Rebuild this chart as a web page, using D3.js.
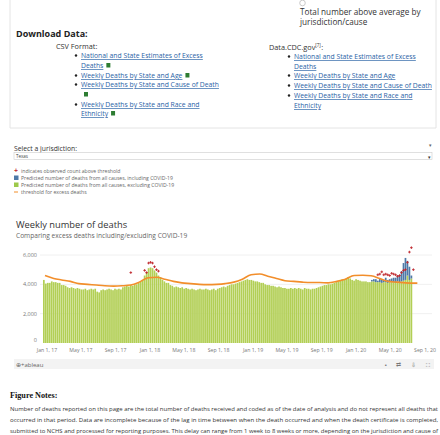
<!DOCTYPE html>
<html><head><meta charset="utf-8">
<script src="https://cdn.jsdelivr.net/npm/d3@7"></script>
<style>body{margin:0;background:#fff;}svg{display:block;font-family:"Open Sans",sans-serif;}</style>
</head><body><svg id="c" width="440" height="435"></svg>
<script>
const firstWeek = "2017-01-07";
const green = [
4300,4050,4100,4100,4200,4150,4150,4100,4100,3950,3950,3900,3800,3750,3800,3750,3700,3750,3700,3650,3650,3700,3600,3650,3700,3650,3700,3500,3450,3600,3650,3600,3650,3700,3650,3600,3700,3650,3700,3650,3800,3850,3900,3850,3950,3900,4000,4000,4100,4200,4300,4600,
4800,5100,5150,5100,4950,4800,4600,4500,4300,4200,4100,4100,3950,3900,3800,3850,3800,3750,3800,3700,3750,3700,3650,3700,3650,3600,3650,3700,3650,3650,3700,3650,3600,3650,3700,3600,3700,3750,3800,3850,3800,3900,3950,4000,4000,4050,4100,4150,4200,4250,
4300,4350,4300,4300,4250,4200,4200,4150,4100,4100,4000,3950,3950,3900,3900,3850,3800,3850,3800,3750,3750,3700,3700,3750,3700,3750,3700,3750,3700,3650,3750,3700,3700,3650,3700,3700,3750,3800,3850,3900,3950,3950,4000,4000,4050,4100,4150,4200,4300,4350,4300,4400,
4500,4400,4300,4250,4350,4300,4250,4200,4200,4200,4150,4150,4200,4200,4150,4150,4150,4100,4150,4150,4100,4200,4150,4150,4100,4200,4150,4200,4250,4300,4600,4300,4400];
const blueExtra = [0,0,0,0,0,0,0,0,0,0,0,0,100,150,200,100,250,200,150,300,200,150,250,300,350,400,450,700,1200,1500,1000,900,200];
const thrDates = ["2017-01-01","2017-02-01","2017-03-01","2017-04-01","2017-05-01","2017-06-01","2017-07-01","2017-08-01","2017-09-01","2017-10-01","2017-11-01","2017-12-01","2018-01-01","2018-02-01","2018-03-01","2018-04-01","2018-05-01","2018-06-01","2018-07-01","2018-08-01","2018-09-01","2018-10-01","2018-11-01","2018-12-01","2019-01-01","2019-02-01","2019-03-01","2019-04-01","2019-05-01","2019-06-01","2019-07-01","2019-08-01","2019-09-01","2019-10-01","2019-11-01","2019-12-01","2020-01-01","2020-02-01","2020-03-01","2020-04-01","2020-05-01","2020-06-01","2020-07-01","2020-08-12"];
const thrValues = [4600,4400,4300,4200,4050,4000,3950,3900,3880,3900,3950,4150,4450,4480,4350,4200,4100,4050,4000,3980,4000,4050,4150,4350,4650,4700,4550,4400,4250,4200,4150,4120,4120,4100,4200,4350,4600,4620,4580,4400,4200,4150,4100,4080];
const plusDates = ["2017-11-11","2017-12-30","2018-01-06","2018-01-13","2018-01-20","2018-01-27","2018-02-03","2018-02-10","2018-02-17","2020-04-04","2020-04-11","2020-04-18","2020-04-25","2020-05-02","2020-05-09","2020-05-16","2020-05-23","2020-05-30","2020-06-06","2020-06-13","2020-06-20","2020-06-27","2020-07-04","2020-07-11","2020-07-18","2020-07-25","2020-08-01","2020-08-08"];
const plusValues = [4800,4950,4800,5450,5500,5450,5200,5000,4900,4650,4700,4850,4650,4700,4650,4600,4750,4700,4650,4550,4600,4800,4950,5000,5500,6200,6500,5000];
const yTicks = [0,2000,4000,6000];
const legendItems = ["indicates observed count above threshold","Predicted number of deaths from all causes, including COVID-19","Predicted number of deaths from all causes, excluding COVID-19","threshold for excess deaths"];

const svg = d3.select("#c");
const P = d3.timeParse("%Y-%m-%d");
const link="#2a63a6";
svg.append("line").attr("x1",10).attr("x2",10).attr("y1",0).attr("y2",128).attr("stroke","#e4e4e4");
svg.append("line").attr("x1",436).attr("x2",436).attr("y1",0).attr("y2",128).attr("stroke","#e4e4e4");
svg.append("line").attr("x1",10).attr("x2",436).attr("y1",128).attr("y2",128).attr("stroke","#e4e4e4");
const T=(x,y,s,o={})=>{const t=svg.append("text").attr("x",x).attr("y",y).text(s).attr("font-size",o.fs||7.3).attr("fill",o.c||"#333");if(o.b)t.attr("font-weight","bold");if(o.u)t.attr("text-decoration","underline");if(o.f)t.attr("font-family",o.f);if(o.a)t.attr("text-anchor",o.a);return t;};
svg.append("circle").attr("cx",302.5).attr("cy",3).attr("r",2.8).attr("fill","#fff").attr("stroke","#aaa").attr("stroke-width",0.6);
T(300,15,"Total number above average by",{fs:8.2});
T(300,25,"jurisdiction/cause",{fs:8.2});
T(16,37,"Download Data:",{fs:9,b:1,c:"#222"});
T(56,49,"CSV Format:",{fs:7.3});
const lf=6.8;
const csv=[["National and State Estimates of Excess",58,1],["Deaths",68,0,1],["Weekly Deaths by State and Age",78,1,1],["Weekly Deaths by State and Cause of Death",87,1],["",97,0,1],["Weekly Deaths by State and Race and",107,1],["Ethnicity",116,0,1]];
csv.forEach(([s,y,b,ic])=>{if(b)svg.append("circle").attr("cx",76).attr("cy",y-2.5).attr("r",1.2).attr("fill","#222");
 const t=T(81,y,s,{fs:lf,c:link,u:1});
 if(ic){const w=s?t.node().getComputedTextLength():0;svg.append("rect").attr("x",81+w+3).attr("y",y-5).attr("width",4).attr("height",4.5).attr("fill","#2e7d32");}});
const dc=T(269,50,"Data.CDC.gov",{fs:7.3});
const dw=dc.node().getComputedTextLength();
T(269+dw,46.5,"[7]",{fs:4.5});
T(269+dw+6,50,":",{fs:7.3});
[["National and State Estimates of Excess",59,1],["Deaths",69,0],["Weekly Deaths by State and Age",78,1],["Weekly Deaths by State and Cause of Death",88,1],["Weekly Deaths by State and Race and",98,1],["Ethnicity",108,0]].forEach(([s,y,b])=>{
 if(b)svg.append("circle").attr("cx",289).attr("cy",y-2.5).attr("r",1.2).attr("fill","#222");T(294,y,s,{fs:lf,c:link,u:1});});
T(14,151,"Select a jurisdiction:",{fs:6.8,c:"#333"});
T(430,147,"▾",{fs:5,c:"#666",a:"middle"});
svg.append("rect").attr("x",14).attr("y",152.5).attr("width",418).attr("height",7).attr("fill","#fff").attr("stroke","#ccc").attr("stroke-width",0.6);
T(16,158,"Texas",{fs:4.5,c:"#444"});
T(428,158.5,"▾",{fs:5,c:"#333"});
const lc=["#c0272d","#4e79a7","#9dc94a","#f28e2b"];
legendItems.forEach((s,i)=>{const y=171+i*7;
 if(i==0)T(14,y+2,"+",{fs:7,c:lc[0],b:1});
 else if(i==3)svg.append("line").attr("x1",14).attr("x2",18).attr("y1",y).attr("y2",y).attr("stroke",lc[3]).attr("stroke-width",1);
 else svg.append("rect").attr("x",14).attr("y",y-2.5).attr("width",4.5).attr("height",4.5).attr("fill",lc[i]);
 T(21,y+2,s,{fs:5.1,c:"#666"});});
T(16,228,"Weekly number of deaths",{fs:9.3,c:"#333"});
T(16,237.5,"Comparing excess deaths including/excluding COVID-19",{fs:6.6,c:"#666"});
const weeks=green.map((d,i)=>d3.timeDay.offset(P(firstWeek),7*i));
const x=d3.scaleTime().domain([P("2017-01-01"),P("2020-09-01")]).range([45,423]);
const y=d3.scaleLinear().domain([0,6000]).range([343,255]);
const g=svg.append("g");
yTicks.forEach(t=>{if(t>0)g.append("line").attr("x1",40).attr("x2",432).attr("y1",y(t)).attr("y2",y(t)).attr("stroke","#f0f0f0");
 g.append("text").attr("x",37).attr("y",y(t)+(t?2:-1)).attr("text-anchor","end").attr("font-size",5.5).attr("fill","#777").text(d3.format(",")(t));});
const bw=1.7;
const bx=d=>x(d3.timeDay.offset(d,-3))-bw/2-2;
g.selectAll(".b").data(weeks).join("rect").attr("x",bx).attr("width",bw).attr("y",(d,i)=>y(green[i])).attr("height",(d,i)=>y(0)-y(green[i])).attr("fill","#b2cf55");
const off=green.length-blueExtra.length;
g.selectAll(".bl").data(blueExtra).join("rect").attr("x",(d,i)=>bx(weeks[off+i])).attr("width",bw).attr("y",(d,i)=>y(green[off+i]+d)).attr("height",(d,i)=>y(green[off+i])-y(green[off+i]+d)).attr("fill","#4e79a7");
const tp=thrDates.map((d,i)=>[x(P(d)),y(thrValues[i])]);
g.append("path").attr("d",d3.line().curve(d3.curveMonotoneX)(tp)).attr("fill","none").attr("stroke","#f28e2b").attr("stroke-width",1.6);
plusDates.forEach((d,i)=>{const px=x(d3.timeDay.offset(P(d),-3))-2,py=y(plusValues[i]);
 g.append("path").attr("d",`M${px-1.3},${py}H${px+1.3}M${px},${py-1.3}V${py+1.3}`).attr("stroke","#c0272d").attr("stroke-width",0.9);});
const ticks=d3.timeMonth.range(P("2017-01-01"),P("2020-09-02"),4);
ticks.forEach(t=>g.append("text").attr("x",x(t)+2).attr("y",351.5).attr("text-anchor","middle").attr("font-size",5.2).attr("fill","#777").text(d3.timeFormat("%b %-d, %y")(t)));
svg.append("rect").attr("x",14).attr("y",359).attr("width",420).attr("height",10).attr("fill","#f3f3f3");
T(16,366.5,"⊕+ableau",{fs:6,c:"#666"});
["▪","⇄","⇩","⛶"].forEach((s,i)=>T([386,398,413,428][i],366.5,s,{fs:5.5,c:"#777",a:"middle"}));
T(10,398,"Figure Notes:",{fs:8.2,b:1,c:"#111",f:"'Liberation Serif',serif"});
["Number of deaths reported on this page are the total number of deaths received and coded as of the date of analysis and do not represent all deaths that",
"occurred in that period. Data are incomplete because of the lag in time between when the death occurred and when the death certificate is completed,",
"submitted to NCHS and processed for reporting purposes. This delay can range from 1 week to 8 weeks or more, depending on the jurisdiction and cause of"].forEach((s,i)=>
 T(10,411+i*11,s,{fs:5.7,c:"#333"}).attr("textLength",428).attr("lengthAdjust","spacingAndGlyphs"));
</script></body></html>
